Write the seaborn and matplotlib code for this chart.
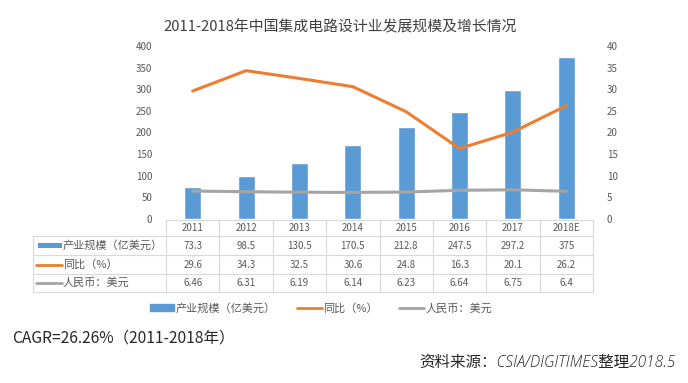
import matplotlib
matplotlib.use("Agg")
import matplotlib.pyplot as plt
import matplotlib.transforms as mtransforms
from matplotlib.lines import Line2D
from matplotlib.patches import Rectangle
import seaborn as sns
import pandas as pd

years = ["2011", "2012", "2013", "2014", "2015", "2016", "2017", "2018E"]
scale = [73.3, 98.5, 130.5, 170.5, 212.8, 247.5, 297.2, 375]
yoy = [29.6, 34.3, 32.5, 30.6, 24.8, 16.3, 20.1, 26.2]
fx = [6.46, 6.31, 6.19, 6.14, 6.23, 6.64, 6.75, 6.4]
series_names = ["产业规模（亿美元）", "同比（%）", "人民币：美元"]
left_ticks = [0, 50, 100, 150, 200, 250, 300, 350, 400]
right_ticks = [0, 5, 10, 15, 20, 25, 30, 35, 40]
title = "2011-2018年中国集成电路设计业发展规模及增长情况"
cagr_text = "CAGR=26.26%（2011-2018年）"
source_text = "资料来源：CSIA/DIGITIMES整理2018.5"

BLUE = "#5B9BD5"
ORANGE = "#ED7D31"
GRAY = "#A5A5A5"
TXT = "#595959"
GRID = "#D9D9D9"

sns.set_style("white")
plt.rcParams["font.family"] = ["Noto Sans CJK SC", "DejaVu Sans"]

df = pd.DataFrame({"year": years, "scale": scale, "yoy": yoy, "fx": fx})

W, H = 688, 383
fig = plt.figure(figsize=(W / 100, H / 100), dpi=100)
x0, x1, ytop, ybot = 166, 593, 46, 219
ax = fig.add_axes([x0 / W, 1 - ybot / H, (x1 - x0) / W, (ybot - ytop) / H])

sns.barplot(data=df, x="year", y="scale", color=BLUE, width=0.32, ax=ax,
            saturation=1, order=years)
ax.set_ylim(0, 400)
ax.set_xlim(-0.5, len(years) - 0.5)
ax.set_yticks(left_ticks)
ax.set_yticklabels([str(t) for t in left_ticks])
ax.set_xlabel("")
ax.set_ylabel("")
ax.set_xticks([])
for s in ax.spines.values():
    s.set_visible(False)
ax.tick_params(axis="y", length=0, labelsize=7, labelcolor=TXT, pad=10)

ax2 = ax.twinx()
sns.lineplot(data=df, x="year", y="yoy", color=ORANGE, lw=2.2, ax=ax2, sort=False)
sns.lineplot(data=df, x="year", y="fx", color=GRAY, lw=2.2, ax=ax2, sort=False)
ax2.set_ylim(0, 40)
ax2.set_xlim(-0.5, len(years) - 0.5)
ax2.set_yticks(right_ticks)
ax2.set_yticklabels([str(t) for t in right_ticks])
ax2.set_xlabel("")
ax2.set_ylabel("")
ax2.set_xticks([])
for s in ax2.spines.values():
    s.set_visible(False)
ax2.tick_params(axis="y", length=0, labelsize=7, labelcolor=TXT, pad=10)

# ---- data table ----
tr = mtransforms.blended_transform_factory(ax.transData, fig.transFigure)
def fy(py):
    return 1 - py / H

n = len(years)
fig.add_artist(Line2D([-0.5, n - 0.5], [fy(220)] * 2, transform=tr, color=GRID, lw=0.8))
for py in [236, 255, 274, 292]:
    fig.add_artist(Line2D([33 / W, x1 / W], [fy(py)] * 2, transform=fig.transFigure,
                          color=GRID, lw=0.8))
for i in range(n + 1):
    fig.add_artist(Line2D([i - 0.5, i - 0.5], [fy(220), fy(292)], transform=tr,
                          color=GRID, lw=0.8))
fig.add_artist(Line2D([33 / W, 33 / W], [fy(236), fy(292)], transform=fig.transFigure,
                      color=GRID, lw=0.8))

for i, yv in enumerate(years):
    fig.text(i, fy(228), yv, transform=tr, ha="center", va="center", fontsize=7, color=TXT)
rows = [scale, yoy, fx]
row_centers = [245.5, 264.5, 283]
for vals, yc in zip(rows, row_centers):
    for i, v in enumerate(vals):
        fig.text(i, fy(yc), f"{v:g}", transform=tr, ha="center", va="center",
                 fontsize=7, color=TXT)

key_colors = [BLUE, ORANGE, GRAY]
for k, (name, yc, c) in enumerate(zip(series_names, row_centers, key_colors)):
    if k == 0:
        fig.add_artist(Rectangle((38 / W, fy(yc) - 2.5 / H), 24 / W, 5 / H,
                                 transform=fig.transFigure, color=c, lw=0))
    else:
        fig.add_artist(Line2D([36 / W, 62 / W], [fy(yc)] * 2, transform=fig.transFigure,
                              color=c, lw=2))
    fig.text(63 / W, fy(yc), name, ha="left", va="center", fontsize=8, color=TXT)

# ---- legend ----
handles = [Rectangle((0, 0), 1, 1, color=BLUE),
           Line2D([], [], color=ORANGE, lw=2),
           Line2D([], [], color=GRAY, lw=2)]
fig.legend(handles, series_names, loc="center", bbox_to_anchor=(321 / W, fy(308)),
           ncol=3, frameon=False, fontsize=8, labelcolor=TXT, handlelength=2.2,
           handleheight=0.5, handletextpad=0.15, columnspacing=1.9)

# ---- texts ----
fig.text(340 / W, fy(27), title, ha="center", va="center", fontsize=10.7,
         color="#404040", fontweight="light")
fig.text(12 / W, fy(338), cagr_text, ha="left", va="center", fontsize=11.2,
         color="#262626", fontweight="light")
fig.text(675 / W, fy(363), source_text, ha="right", va="center", fontsize=11.2,
         color="#262626", style="italic", fontweight="light",
         family=["Open Sans", "Noto Sans CJK SC"])

fig.savefig("out.png", dpi=100)
